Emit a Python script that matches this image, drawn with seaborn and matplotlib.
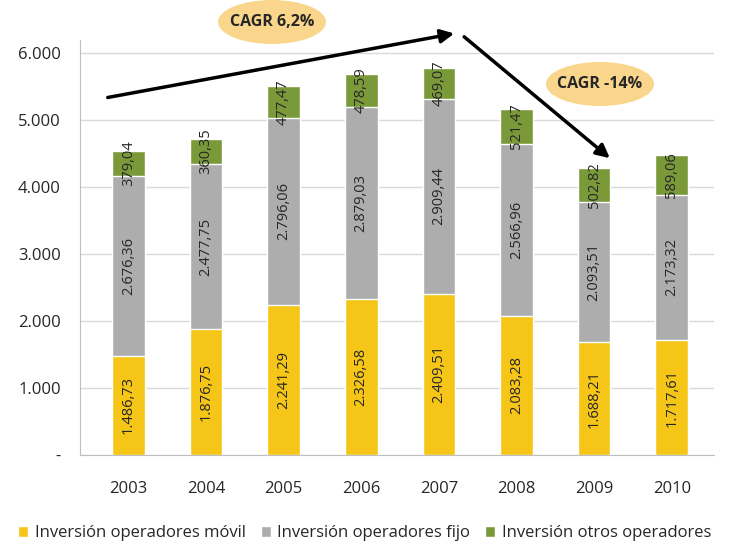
import numpy as np
import pandas as pd
import seaborn as sns
import matplotlib.pyplot as plt
from matplotlib.patches import Ellipse

# Data (millones de euros)
years = ["2003", "2004", "2005", "2006", "2007", "2008", "2009", "2010"]
movil = [1486.73, 1876.75, 2241.29, 2326.58, 2409.51, 2083.28, 1688.21, 1717.61]
fijo = [2676.36, 2477.75, 2796.06, 2879.03, 2909.44, 2566.96, 2093.51, 2173.32]
otros = [379.04, 360.35, 477.47, 478.59, 469.07, 521.47, 502.82, 589.06]
series_names = ["Inversión operadores móvil", "Inversión operadores fijo", "Inversión otros operadores"]
yticks = [0, 1000, 2000, 3000, 4000, 5000, 6000]
ytick_labels = ["-", "1.000", "2.000", "3.000", "4.000", "5.000", "6.000"]

colors = ["#F5C518", "#ADADAD", "#7A9A3A"]

df = pd.DataFrame({"year": years, "movil": movil, "fijo": fijo, "otros": otros})
df["base2"] = df["movil"] + df["fijo"]
df["total"] = df["base2"] + df["otros"]


def fmt_es(v):
    s = f"{v:,.2f}"
    return s.replace(",", "X").replace(".", ",").replace("X", ".")


sns.set_style("white")
plt.rcParams["font.family"] = ["Open Sans", "DejaVu Sans"]

fig = plt.figure(figsize=(7.29, 5.47), dpi=100)
ax = fig.add_axes([0.11, 0.168, 0.87, 0.759])

# stacked bars drawn as overlapping cumulative totals
sns.barplot(data=df, x="year", y="total", color=colors[2], width=0.42,
            saturation=1, ax=ax, label=series_names[2])
sns.barplot(data=df, x="year", y="base2", color=colors[1], width=0.42,
            saturation=1, ax=ax, label=series_names[1])
sns.barplot(data=df, x="year", y="movil", color=colors[0], width=0.42,
            saturation=1, ax=ax, label=series_names[0])

# value labels inside segments
for i, row in df.iterrows():
    for lo, val in [(0, row["movil"]), (row["movil"], row["fijo"]), (row["base2"], row["otros"])]:
        ax.text(i, lo + val / 2, fmt_es(val), rotation=90, ha="center", va="center",
                fontsize=10.5, color="#262626")

ax.set_ylim(0, 6200)
ax.set_xlim(-0.62, 7.55)
ax.set_yticks(yticks)
ax.set_yticklabels(ytick_labels)
ax.yaxis.grid(True, color="#D9D9D9", linewidth=1)
ax.set_axisbelow(True)
ax.set_xlabel("")
ax.set_ylabel("")

for side in ["top", "right"]:
    ax.spines[side].set_visible(False)
ax.spines["left"].set_color("#BFBFBF")
ax.spines["bottom"].set_color("#BFBFBF")
ax.tick_params(axis="y", length=4, color="#BFBFBF", pad=10, labelsize=12, labelcolor="#262626")
ax.tick_params(axis="x", length=0, pad=19, labelsize=12, labelcolor="#262626")
ax.set_xticks(np.arange(len(years)) + 0.5, minor=True)
ax.tick_params(axis="x", which="minor", length=8, color="#BFBFBF", direction="out")

# legend
handles, labels = ax.get_legend_handles_labels()
order = [labels.index(n) for n in series_names]
fig.legend([handles[k] for k in order], [labels[k] for k in order],
           loc="center", bbox_to_anchor=(0.5, 0.025), ncol=3, frameon=False,
           fontsize=12, handlelength=0.6, handleheight=0.6, handletextpad=0.4,
           columnspacing=0.9, labelcolor="#262626")
if ax.get_legend():
    ax.get_legend().remove()

# CAGR arrows and bubbles
H = 547
ax.annotate("", xy=(457, H - 33), xytext=(105, H - 98), xycoords="figure pixels",
            textcoords="figure pixels",
            arrowprops=dict(arrowstyle="-|>,head_length=0.8,head_width=0.4", lw=2.5, color="black"))
ax.annotate("", xy=(612, H - 160), xytext=(462, H - 35), xycoords="figure pixels",
            textcoords="figure pixels",
            arrowprops=dict(arrowstyle="-|>,head_length=0.8,head_width=0.4", lw=2.5, color="black"))

for (cx, cy, txt) in [(272, 22, "CAGR 6,2%"), (600, 84, "CAGR -14%")]:
    e = Ellipse((cx / 729, 1 - cy / H), 108 / 729, 44 / H, transform=fig.transFigure,
                facecolor="#FAD68C", edgecolor="none", zorder=5)
    fig.patches.append(e)
    fig.text(cx / 729, 1 - cy / H, txt, ha="center", va="center", fontsize=11.5,
             fontweight="bold", color="#262626", zorder=6)

plt.savefig("out.png", dpi=100)
